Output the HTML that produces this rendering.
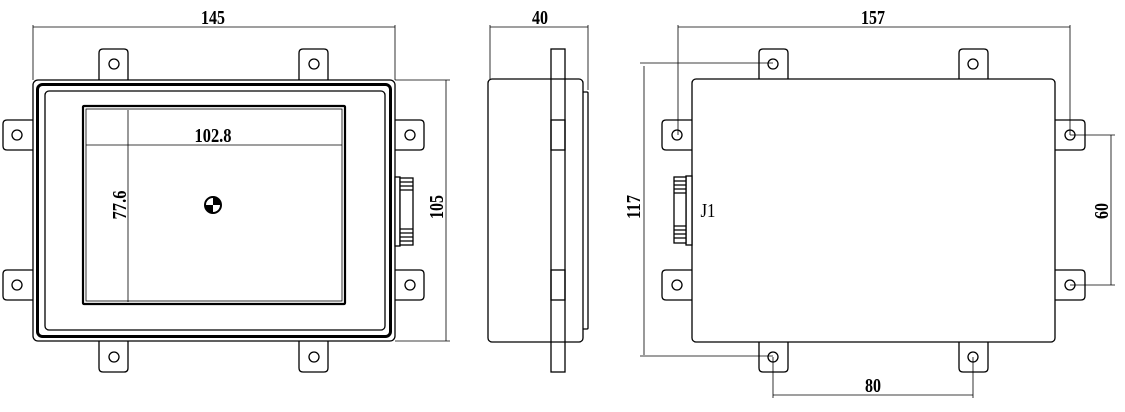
<!DOCTYPE html>
<html><head><meta charset="utf-8"><style>html,body{margin:0;padding:0;background:#fff}svg{display:block}</style></head><body>
<svg width="1125" height="412" viewBox="0 0 1125 412" xmlns="http://www.w3.org/2000/svg" font-family="Liberation Serif, serif" font-weight="bold">
<g fill="#fff" stroke="#000" stroke-width="1.3">
<path d="M99 80V53Q99 49 103 49H124Q128 49 128 53V80"/>
<path d="M299 80V53Q299 49 303 49H324Q328 49 328 53V80"/>
<path d="M99 341V368Q99 372 103 372H124Q128 372 128 368V341"/>
<path d="M299 341V368Q299 372 303 372H324Q328 372 328 368V341"/>
<path d="M33 120H7Q3 120 3 124V146Q3 150 7 150H33"/>
<path d="M33 270H7Q3 270 3 274V296Q3 300 7 300H33"/>
<path d="M395 120H420Q424 120 424 124V146Q424 150 420 150H395"/>
<path d="M395 270H420Q424 270 424 274V296Q424 300 420 300H395"/>
<circle cx="114" cy="64" r="5"/><circle cx="314" cy="64" r="5"/>
<circle cx="114" cy="357" r="5"/><circle cx="314" cy="357" r="5"/>
<circle cx="17" cy="135" r="5"/><circle cx="17" cy="285" r="5"/>
<circle cx="410" cy="135" r="5"/><circle cx="410" cy="285" r="5"/>
<rect x="33" y="80" width="362" height="261" rx="5"/>
<rect x="37.5" y="84.5" width="353" height="252" rx="5" stroke-width="3"/>
<rect x="45" y="91" width="340" height="239" rx="4"/>
<rect x="83" y="106" width="262" height="198" rx="1" stroke-width="2.2"/>
<rect x="86" y="109" width="256" height="192" stroke-width="0.8"/>
<rect x="395" y="177" width="5" height="69"/>
<rect x="400" y="178" width="13" height="67"/>
<path d="M400 182H413M400 186H413M400 190H413M400 229H413M400 233H413M400 237H413M400 241H413" fill="none"/>
<rect x="582" y="92" width="6" height="237" rx="1"/>
<rect x="488" y="79" width="95" height="263" rx="4"/>
<rect x="551" y="49" width="14" height="323" fill="none"/>
<rect x="551" y="120" width="14" height="30" fill="none"/>
<rect x="551" y="270" width="14" height="30" fill="none"/>
<path d="M759 79V53Q759 49 763 49H784Q788 49 788 53V79"/>
<path d="M959 79V53Q959 49 963 49H984Q988 49 988 53V79"/>
<path d="M759 342V368Q759 372 763 372H784Q788 372 788 368V342"/>
<path d="M959 342V368Q959 372 963 372H984Q988 372 988 368V342"/>
<path d="M692 120H666Q662 120 662 124V146Q662 150 666 150H692"/>
<path d="M692 270H666Q662 270 662 274V296Q662 300 666 300H692"/>
<path d="M1055 120H1081Q1085 120 1085 124V146Q1085 150 1081 150H1055"/>
<path d="M1055 270H1081Q1085 270 1085 274V296Q1085 300 1081 300H1055"/>
<rect x="692" y="79" width="363" height="263" rx="4"/>
<circle cx="773" cy="64" r="5"/><circle cx="973" cy="64" r="5"/>
<circle cx="773" cy="357" r="5"/><circle cx="973" cy="357" r="5"/>
<circle cx="677" cy="135" r="5"/><circle cx="677" cy="285" r="5"/>
<circle cx="1070" cy="135" r="5"/><circle cx="1070" cy="285" r="5"/>
<rect x="686" y="176" width="6" height="69"/>
<rect x="674" y="177" width="12" height="66"/>
<path d="M674 181H686M674 185H686M674 189H686M674 193H686M674 226H686M674 230H686M674 234H686M674 238H686" fill="none"/>
</g>
<g stroke="#000" stroke-width="0.8" fill="none">
<path d="M33 25V80M395 25V80M33 27H395"/>
<path d="M395 80H450M395 341H450M446 80V341"/>
<path d="M86 145H342M128 110V302"/>
<path d="M490 25V80M588 25V90M490 27H588"/>
<path d="M678 25V135M1070 25V135M678 27H1070"/>
<path d="M640 63H773M640 356H773M644 66V355"/>
<path d="M1070 135H1115M1070 285H1115M1111 135V285"/>
<path d="M773 357V398M973 357V398M773 395H973"/>
</g>
<circle cx="213" cy="205" r="8" fill="#fff" stroke="#000" stroke-width="2"/>
<path d="M213 205V197A8 8 0 0 1 221 205Z" fill="#000"/>
<path d="M213 205V213A8 8 0 0 1 205 205Z" fill="#000"/>
<g font-size="20" text-anchor="middle" fill="#000">
<text x="213" y="24" textLength="24" lengthAdjust="spacingAndGlyphs">145</text>
<text x="213" y="142" textLength="37" lengthAdjust="spacingAndGlyphs">102.8</text>
<text x="540" y="24" textLength="16" lengthAdjust="spacingAndGlyphs">40</text>
<text x="873" y="24" textLength="24" lengthAdjust="spacingAndGlyphs">157</text>
<text x="873" y="392" textLength="16" lengthAdjust="spacingAndGlyphs">80</text>
<text x="708" y="217" textLength="15" lengthAdjust="spacingAndGlyphs" font-weight="normal">J1</text>
<text transform="translate(126 205) rotate(-90)" textLength="29" lengthAdjust="spacingAndGlyphs">77.6</text>
<text transform="translate(443 207) rotate(-90)" textLength="24" lengthAdjust="spacingAndGlyphs">105</text>
<text transform="translate(640 207) rotate(-90)" textLength="24" lengthAdjust="spacingAndGlyphs">117</text>
<text transform="translate(1108 211) rotate(-90)" textLength="16" lengthAdjust="spacingAndGlyphs">60</text>
</g>
</svg>
</body></html>
